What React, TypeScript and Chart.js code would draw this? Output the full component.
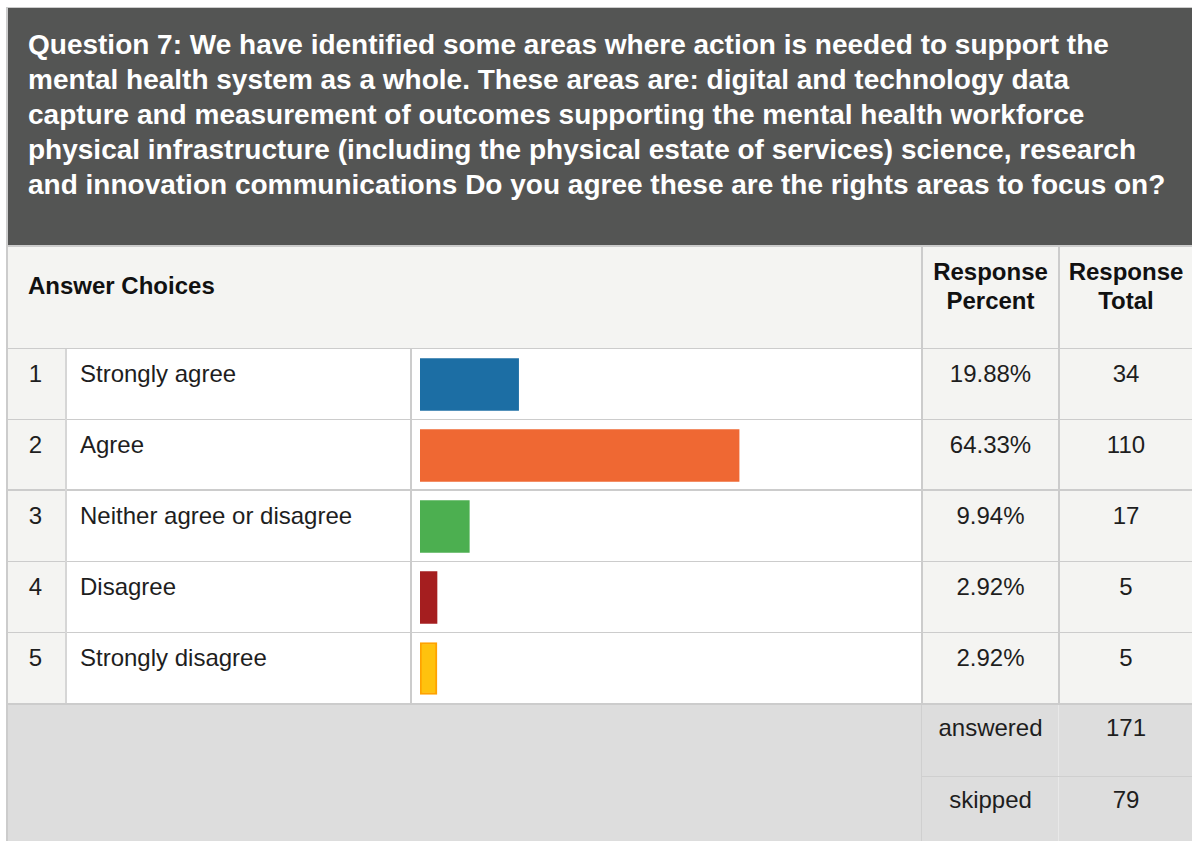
import React, { useEffect, useRef } from "react";
import { Chart, registerables } from "chart.js";

Chart.register(...registerables);

const questionLines = [
  "Question 7: We have identified some areas where action is needed to support the",
  "mental health system as a whole. These areas are: digital and technology data",
  "capture and measurement of outcomes supporting the mental health workforce",
  "physical infrastructure (including the physical estate of services) science, research",
  "and innovation communications Do you agree these are the rights areas to focus on?",
];
const headerLabels = ["Answer Choices", "Response\nPercent", "Response\nTotal"];
const choiceNumbers = ["1", "2", "3", "4", "5"];
const choiceLabels = [
  "Strongly agree",
  "Agree",
  "Neither agree or disagree",
  "Disagree",
  "Strongly disagree",
];
const responsePercents = [19.88, 64.33, 9.94, 2.92, 2.92];
const responseTotals = [34, 110, 17, 5, 5];
const barColors = ["#1c6ea4", "#ef6833", "#4caf50", "#a51e1f", "#ffc20e"];
const barBorderColors = ["#1c6ea4", "#ef6833", "#4caf50", "#a51e1f", "#ffa200"];
const barBorderWidths = [0, 0, 0, 0, 2];
const summaryLabels = ["answered", "skipped"];
const summaryValues = [171, 79];

const FONT = '"Liberation Sans", Arial, Helvetica, sans-serif';
const LINE = "#cccccc";
const LIGHT = "#f4f4f2";

function Box(props: { x: number; y: number; w: number; h: number; bg: string }) {
  return (
    <div
      style={{
        position: "absolute",
        left: props.x,
        top: props.y,
        width: props.w,
        height: props.h,
        background: props.bg,
      }}
    />
  );
}

function Txt(props: {
  x: number;
  y: number;
  w?: number;
  lh?: number;
  size?: number;
  bold?: boolean;
  color?: string;
  align?: "left" | "center";
  children: React.ReactNode;
}) {
  return (
    <div
      style={{
        position: "absolute",
        left: props.x,
        top: props.y,
        width: props.w,
        fontSize: props.size ?? 24,
        lineHeight: (props.lh ?? 28) + "px",
        fontWeight: props.bold ? "bold" : "normal",
        color: props.color ?? "#1e1e1e",
        textAlign: props.align ?? "left",
        whiteSpace: "pre",
      }}
    >
      {props.children}
    </div>
  );
}

function BarChart() {
  const ref = useRef<HTMLCanvasElement | null>(null);
  useEffect(() => {
    if (!ref.current) return;
    const chart = new Chart(ref.current, {
      type: "bar",
      data: {
        labels: choiceLabels,
        datasets: [
          {
            data: responsePercents,
            backgroundColor: barColors,
            borderColor: barBorderColors,
            borderWidth: barBorderWidths,
            borderSkipped: false,
            barThickness: 52,
            minBarLength: 17,
          },
        ],
      },
      options: {
        indexAxis: "y",
        responsive: false,
        maintainAspectRatio: false,
        animation: false,
        devicePixelRatio: 1,
        layout: { padding: { left: 8, right: 5, top: 0, bottom: 0 } },
        scales: {
          x: { display: false, min: 0, max: 100 },
          y: { display: false, offset: true },
        },
        plugins: { legend: { display: false }, tooltip: { enabled: false } },
      },
    });
    return () => chart.destroy();
  }, []);
  return (
    <canvas
      ref={ref}
      width={509}
      height={355}
      style={{ position: "absolute", left: 412, top: 349, width: 509, height: 355 }}
    />
  );
}

export default function App() {
  const rowTops = [349, 420, 491, 562, 633];
  const rowH = 71;
  return (
    <div
      style={{
        position: "absolute",
        left: 0,
        top: 0,
        width: 1192,
        height: 841,
        overflow: "hidden",
        background: "#ffffff",
        fontFamily: FONT,
      }}
    >
      {/* header block */}
      <Box x={6} y={7} w={1186} h={1} bg={LINE} />
      <Box x={8} y={8} w={1184} h={237} bg="#545554" />
      {questionLines.map((l, i) => (
        <Txt key={i} x={28} y={27.9 + i * 34.9} lh={34.8} size={28} bold color="#ffffff">
          {l}
        </Txt>
      ))}
      <Box x={8} y={245} w={1184} h={2} bg={LINE} />
      {/* column header row */}
      <Box x={8} y={247} w={1184} h={101} bg={LIGHT} />
      <Txt x={28} y={272} bold color="#111">
        {headerLabels[0]}
      </Txt>
      <Txt x={923} y={257.2} w={135} lh={29} bold align="center" color="#111">
        {headerLabels[1]}
      </Txt>
      <Txt x={1060} y={257.2} w={132} lh={29} bold align="center" color="#111">
        {headerLabels[2]}
      </Txt>
      {/* body rows */}
      {rowTops.map((t, i) => (
        <React.Fragment key={i}>
          <Box x={8} y={t} w={57} h={rowH} bg={LIGHT} />
          <Box x={67} y={t} w={343} h={rowH} bg="#ffffff" />
          <Box x={412} y={t} w={509} h={rowH} bg="#ffffff" />
          <Box x={923} y={t} w={135} h={rowH} bg={LIGHT} />
          <Box x={1060} y={t} w={132} h={rowH} bg={LIGHT} />
          <Txt x={7} y={t + 10.5} w={57} align="center">
            {choiceNumbers[i]}
          </Txt>
          <Txt x={80} y={t + 10.5}>
            {choiceLabels[i]}
          </Txt>
          <Txt x={923} y={t + 10.5} w={135} align="center">
            {responsePercents[i].toFixed(2) + "%"}
          </Txt>
          <Txt x={1060} y={t + 10.5} w={132} align="center">
            {String(responseTotals[i])}
          </Txt>
        </React.Fragment>
      ))}
      {/* horizontal row lines */}
      <Box x={8} y={348} w={1184} h={1} bg={LINE} />
      <Box x={8} y={419} w={1184} h={1} bg={LINE} />
      <Box x={8} y={489} w={1184} h={2} bg={LINE} />
      <Box x={8} y={561} w={1184} h={1} bg={LINE} />
      <Box x={8} y={632} w={1184} h={1} bg={LINE} />
      <Box x={8} y={703} w={1184} h={2} bg={LINE} />
      {/* vertical lines */}
      <Box x={65} y={349} w={2} h={354} bg="#d6d6d6" />
      <Box x={410} y={349} w={2} h={354} bg={LINE} />
      <Box x={921} y={247} w={2} h={456} bg={LINE} />
      <Box x={1058} y={247} w={2} h={456} bg={LINE} />
      {/* summary footer */}
      <Box x={8} y={705} w={1184} h={136} bg="#dddddd" />
      <Box x={921} y={705} w={1} h={136} bg="#cfcfcf" />
      <Box x={1058} y={705} w={1} h={136} bg="#e8e8e8" />
      <Box x={922} y={776} w={270} h={1} bg="#cfcfcf" />
      {summaryLabels.map((s, i) => (
        <React.Fragment key={s}>
          <Txt x={923} y={714.2 + i * 71.3} w={135} align="center">
            {s}
          </Txt>
          <Txt x={1060} y={714.2 + i * 71.3} w={132} align="center">
            {String(summaryValues[i])}
          </Txt>
        </React.Fragment>
      ))}
      {/* left border */}
      <Box x={6} y={8} w={2} h={833} bg={LINE} />
      <BarChart />
    </div>
  );
}
